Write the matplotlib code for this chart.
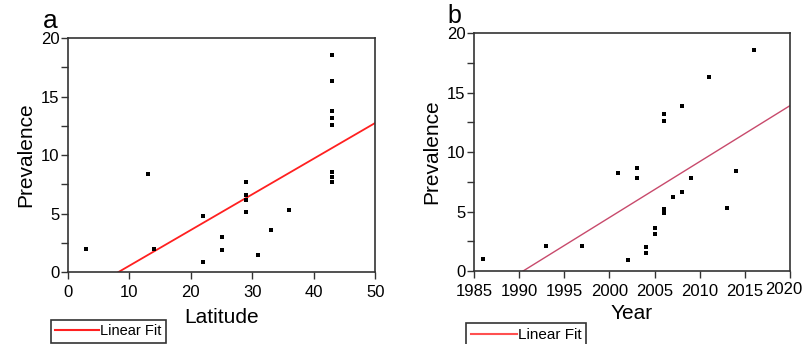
import matplotlib.pyplot as plt
import numpy as np
from matplotlib.lines import Line2D
from matplotlib.ticker import MultipleLocator

plt.rcParams['font.family'] = ['Liberation Sans', 'DejaVu Sans']

# panel a: prevalence vs latitude
lat = [3, 13, 14, 22, 22, 25, 25, 29, 29, 29, 29, 31, 33, 36,
       43, 43, 43, 43, 43, 43, 43, 43]
prev_a = [2.0, 8.4, 2.0, 4.8, 0.85, 3.0, 1.9, 7.7, 6.6, 6.2, 5.15, 1.5, 3.6, 5.3,
          18.6, 16.3, 13.8, 13.2, 12.6, 8.6, 8.1, 7.7]
fit_a = [0.305, -2.5]  # slope, intercept

# panel b: prevalence vs year
year = [1986, 1993, 1997, 2001, 2002, 2003, 2003, 2004, 2004, 2005, 2005,
        2006, 2006, 2006, 2006, 2007, 2008, 2008, 2009, 2011, 2013, 2014, 2016]
prev_b = [1.0, 2.1, 2.1, 8.2, 0.9, 8.65, 7.8, 2.0, 1.55, 3.65, 3.1,
          13.2, 12.65, 5.2, 4.85, 6.2, 13.85, 6.65, 7.8, 16.3, 5.3, 8.4, 18.6]
fit_b = [0.47, -935.5]
year_ticks = [1985, 1990, 1995, 2000, 2005, 2010, 2015, 2020]

fig = plt.figure(figsize=(8.04, 3.44), dpi=100)
ax1 = fig.add_axes([0.0846, 0.209, 0.382, 0.680])
ax2 = fig.add_axes([0.5896, 0.212, 0.393, 0.692])

spine_col = '#333333'

def style(ax):
    for s in ax.spines.values():
        s.set_color(spine_col)
        s.set_linewidth(1.2)
    ax.tick_params(which='both', direction='out', color=spine_col, width=1.0,
                   labelsize=12, length=5)
    ax.tick_params(axis='x', pad=4)
    ax.tick_params(axis='y', pad=1)
    ax.set_ylim(0, 20)
    ax.yaxis.set_major_locator(MultipleLocator(5))
    ax.yaxis.set_minor_locator(MultipleLocator(2.5))
    ax.set_ylabel('Prevalence', fontsize=15, labelpad=4)

# panel a
ax1.scatter(lat, prev_a, s=6, marker='s', color='black', lw=0, zorder=3)
xa = np.array([-fit_a[1] / fit_a[0], 50])
ax1.plot(xa, fit_a[0] * xa + fit_a[1], color='#ff2020', lw=1.3)
ax1.set_xlim(0, 50)
ax1.xaxis.set_major_locator(MultipleLocator(10))
style(ax1)
ax1.set_xlabel('Latitude', fontsize=15, labelpad=6)
fig.text(0.053, 0.919, 'a', fontsize=19, va='baseline')

# panel b
ax2.scatter(year, prev_b, s=6, marker='s', color='black', lw=0, zorder=3)
xb = np.array([-fit_b[1] / fit_b[0], 2020])
ax2.plot(xb, fit_b[0] * xb + fit_b[1], color='#c84a6c', lw=1.0)
ax2.set_xlim(1985, 2020)
ax2.set_xticks(year_ticks, [str(y) for y in year_ticks[:-1]] + [''])
style(ax2)
# last year label sits a little left of its tick, as in the original
ax2.annotate(str(year_ticks[-1]), xy=(year_ticks[-1], 0),
             xycoords=('data', 'axes fraction'), xytext=(-4.5, -8),
             textcoords='offset points', ha='center', va='top', fontsize=12)
ax2.set_xlabel('Year', fontsize=15, labelpad=4)
fig.text(0.556, 0.932, 'b', fontsize=18, va='baseline')

# legends below the axes
for x0, y0, col, fs in [(0.061, 0.0, '#ff2020', 10.5), (0.578, -0.012, '#ff5050', 11)]:
    h = Line2D([], [], color=col, lw=1.5)
    leg = fig.legend([h], ['Linear Fit'], loc='lower left',
                     bbox_to_anchor=(x0, y0), fontsize=fs, frameon=True,
                     fancybox=False, edgecolor='black', handlelength=3.0,
                     handletextpad=0.1, borderpad=0.3, borderaxespad=0.1)
    leg.get_frame().set_linewidth(1.2)

fig.savefig('out.png', dpi=100)
